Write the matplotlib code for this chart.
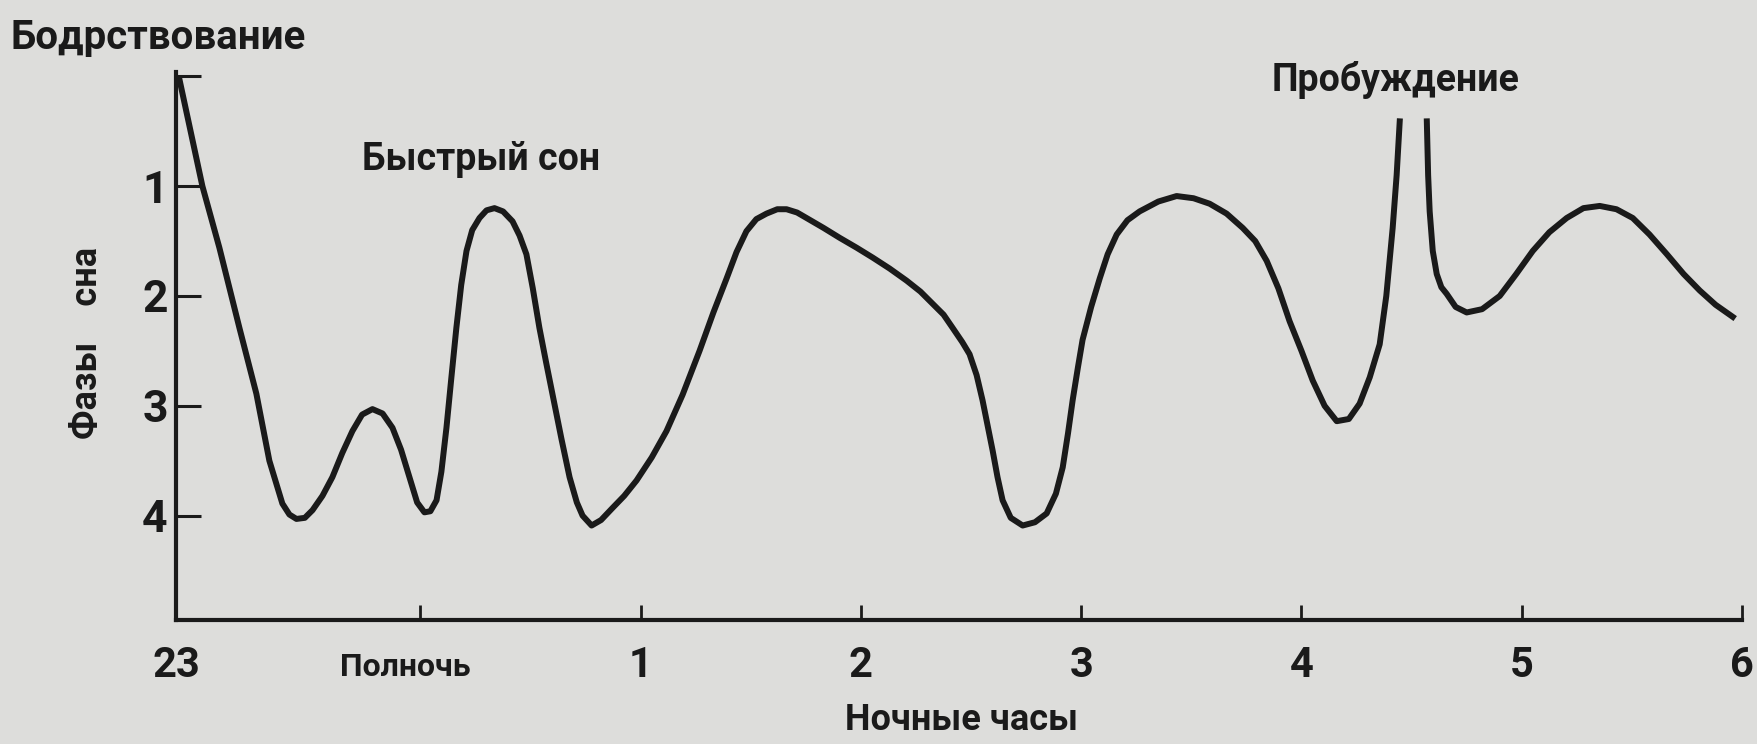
import matplotlib
matplotlib.use('Agg')
import matplotlib.pyplot as plt
import matplotlib.transforms as mtransforms

# Часы после полуночи (23:00 ~ -1.1) и фаза сна (0 = бодрствование)
hours_1 = [-1.094, -0.990, -0.913, -0.822, -0.745, -0.686, -0.627, -0.595, -0.563,
           -0.525, -0.490, -0.445, -0.400, -0.355, -0.309, -0.265, -0.218, -0.172,
           -0.127, -0.088, -0.050, -0.015, 0.018, 0.045, 0.073, 0.095, 0.118,
           0.140, 0.163, 0.185, 0.209, 0.235, 0.268, 0.300, 0.336, 0.375, 0.418,
           0.450, 0.481, 0.510, 0.540, 0.570, 0.599, 0.640, 0.677, 0.710, 0.736,
           0.777, 0.820, 0.872, 0.925, 0.981, 1.050, 1.117, 1.190, 1.267, 1.330,
           1.390, 1.435, 1.480, 1.525, 1.571, 1.620, 1.662, 1.710, 1.753, 1.830,
           1.903, 1.980, 2.053, 2.130, 2.207, 2.270, 2.325, 2.375, 2.416, 2.460,
           2.493, 2.525, 2.552, 2.575, 2.598, 2.620, 2.643, 2.680, 2.734, 2.790,
           2.843, 2.885, 2.916, 2.940, 2.961, 2.985, 3.006, 3.045, 3.084, 3.120,
           3.161, 3.210, 3.265, 3.350, 3.433, 3.510, 3.583, 3.660, 3.733, 3.790,
           3.842, 3.895, 3.946, 4.000, 4.051, 4.105, 4.160, 4.215, 4.264, 4.310,
           4.355, 4.385, 4.414, 4.432, 4.446]
phase_1 = [0.03, 1.0, 1.56, 2.29, 2.89, 3.5, 3.89, 3.99, 4.03,
           4.02, 3.95, 3.82, 3.65, 3.43, 3.23, 3.08, 3.03, 3.07,
           3.2, 3.4, 3.65, 3.88, 3.97, 3.96, 3.86, 3.6, 3.2,
           2.75, 2.29, 1.9, 1.59, 1.4, 1.29, 1.22, 1.2, 1.23, 1.32,
           1.45, 1.62, 1.93, 2.29, 2.6, 2.89, 3.3, 3.65, 3.88, 4.0,
           4.09, 4.04, 3.93, 3.82, 3.68, 3.47, 3.23, 2.9, 2.5, 2.15,
           1.84, 1.6, 1.41, 1.3, 1.25, 1.21, 1.21, 1.24, 1.29, 1.38,
           1.47, 1.56, 1.65, 1.75, 1.86, 1.96, 2.07, 2.17, 2.29, 2.42,
           2.53, 2.72, 2.95, 3.18, 3.41, 3.65, 3.86, 4.02, 4.09, 4.06,
           3.98, 3.8, 3.56, 3.25, 2.95, 2.65, 2.4, 2.1, 1.84, 1.62,
           1.44, 1.31, 1.23, 1.14, 1.09, 1.11, 1.16, 1.25, 1.38, 1.5,
           1.68, 1.93, 2.23, 2.5, 2.77, 3.0, 3.14, 3.12, 2.98, 2.74,
           2.44, 2.0, 1.38, 0.9, 0.41]

hours_2 = [4.569, 4.575, 4.582, 4.596, 4.614, 4.635, 4.659, 4.700, 4.750, 4.820,
           4.900, 4.975, 5.050, 5.125, 5.204, 5.280, 5.354, 5.430, 5.504, 5.580,
           5.659, 5.735, 5.808, 5.880, 5.958]
phase_2 = [0.41, 0.9, 1.23, 1.59, 1.8, 1.92, 1.98, 2.1, 2.15, 2.12,
           2.0, 1.8, 1.59, 1.42, 1.29, 1.2, 1.18, 1.21, 1.29, 1.44,
           1.62, 1.8, 1.95, 2.08, 2.19]

x_ticks = [-1.11, 0, 1, 2, 3, 4, 5, 6]
x_labels = ['23', 'Полночь', '1', '2', '3', '4', '5', '6']
y_ticks = [0, 1, 2, 3, 4]
y_labels = ['', '1', '2', '3', '4']

bg = '#dddddb'
ink = '#1a1a1a'
plt.rcParams['font.family'] = ['Roboto', 'DejaVu Sans']
plt.rcParams['font.weight'] = 'bold'

fig = plt.figure(figsize=(17.58, 7.44), dpi=100, facecolor=bg)
ax = fig.add_axes([0.1001, 0.1667, 0.8908, 0.7366])
ax.set_facecolor(bg)

ax.plot(hours_1, phase_1, color=ink, lw=4.3, solid_joinstyle='round')
ax.plot(hours_2, phase_2, color=ink, lw=4.3, solid_joinstyle='round')

ax.set_xlim(-1.11, 6.0)
ax.set_ylim(4.95, -0.04)

for s in ['top', 'right']:
    ax.spines[s].set_visible(False)
for s in ['left', 'bottom']:
    ax.spines[s].set_linewidth(3)
    ax.spines[s].set_color(ink)

ax.set_xticks(x_ticks)
ax.set_xticklabels(x_labels)
ax.set_yticks(y_ticks)
ax.set_yticklabels(y_labels)
ax.tick_params(axis='x', direction='in', length=11, width=2, pad=18,
               labelsize=30, colors=ink)
ax.tick_params(axis='y', direction='in', length=18, width=2.2, pad=6,
               labelsize=32, colors=ink)

# "Полночь" в оригинале чуть левее и ниже своей засечки
midnight = ax.get_xticklabels()[1]
midnight.set_fontsize(23)
midnight.set_transform(midnight.get_transform() +
                       mtransforms.ScaledTranslation(-0.15, -0.07, fig.dpi_scale_trans))

fig.text(0.006, 0.949, 'Бодрствование', fontsize=29, ha='left', va='center', color=ink)
fig.text(0.206, 0.785, 'Быстрый сон', fontsize=27, ha='left', va='center', color=ink)
fig.text(0.7235, 0.892, 'Пробуждение', fontsize=27, ha='left', va='center', color=ink)
fig.text(0.547, 0.032, 'Ночные часы', fontsize=26, ha='center', va='center', color=ink)
fig.text(0.0495, 0.539, 'Фазы    сна', fontsize=26, rotation=90,
         ha='center', va='center', color=ink)

fig.savefig('out.png', dpi=100, facecolor=bg)
